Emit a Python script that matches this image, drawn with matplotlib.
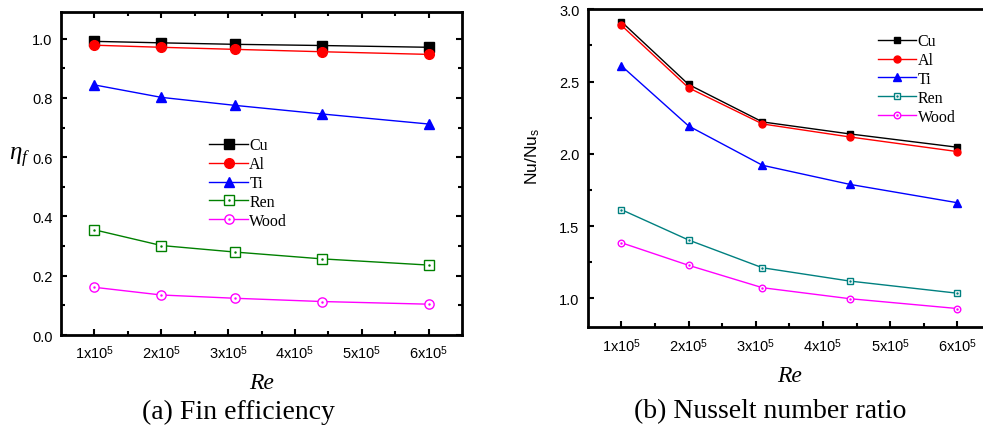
import matplotlib
matplotlib.use("Agg")
import matplotlib.pyplot as plt
from matplotlib.ticker import MultipleLocator, FixedLocator, FixedFormatter

plt.rcParams['font.family'] = ['Liberation Sans', 'DejaVu Sans']
plt.rcParams['mathtext.fontset'] = 'custom'
plt.rcParams['mathtext.rm'] = 'Liberation Sans'
plt.rcParams['mathtext.it'] = 'Liberation Serif:italic'

# Reynolds numbers
re = [1e5, 2e5, 3.1e5, 4.4e5, 6e5]
materials = ['Cu', 'Al', 'Ti', 'Ren', 'Wood']

# (a) fin efficiency
eff_cu = [0.991, 0.986, 0.981, 0.977, 0.971]
eff_al = [0.978, 0.971, 0.964, 0.956, 0.947]
eff_ti = [0.844, 0.802, 0.775, 0.746, 0.712]
eff_ren = [0.355, 0.302, 0.280, 0.257, 0.236]
eff_wood = [0.161, 0.135, 0.124, 0.113, 0.104]

# (b) Nusselt number ratio
nu_cu = [2.914, 2.480, 2.221, 2.138, 2.046]
nu_al = [2.889, 2.457, 2.207, 2.117, 2.016]
nu_ti = [2.609, 2.193, 1.921, 1.789, 1.662]
nu_ren = [1.614, 1.404, 1.212, 1.120, 1.036]
nu_wood = [1.385, 1.229, 1.074, 0.998, 0.930]

xtick_vals = [1e5, 2e5, 3e5, 4e5, 5e5, 6e5]
xtick_labels = ['1x10$^5$', '2x10$^5$', '3x10$^5$', '4x10$^5$', '5x10$^5$', '6x10$^5$']

fig = plt.figure(figsize=(9.83, 4.27), dpi=100)
ax1 = fig.add_axes([0.0621, 0.2131, 0.408, 0.7564])
ax2 = fig.add_axes([0.598, 0.2311, 0.410, 0.7447])


def draw(ax, series, colors, msize, lw):
    handles = []
    for (name, vals), c in zip(series, colors):
        if name == 'Cu':
            h, = ax.plot(re, vals, color=c, marker='s', ms=msize, lw=lw)
        elif name == 'Al':
            h, = ax.plot(re, vals, color=c, marker='o', ms=msize, lw=lw)
        elif name == 'Ti':
            h, = ax.plot(re, vals, color=c, marker='^', ms=msize * 1.1, lw=lw)
        else:
            h, = ax.plot(re, vals, color=c, marker='s' if name == 'Ren' else 'o',
                         ms=msize * 0.95, lw=lw, mfc='white', mec=c, mew=1.0)
            d, = ax.plot(re, vals, color=c, marker='.', ms=1.5, lw=0)
            h = (h, d)
        handles.append(h)
    return handles


def style(ax, ylim, ymaj, ymin):
    ax.set_xlim(0.5e5, 6.5e5)
    ax.set_ylim(*ylim)
    ax.xaxis.set_major_locator(FixedLocator(xtick_vals))
    ax.xaxis.set_major_formatter(FixedFormatter(xtick_labels))
    ax.xaxis.set_minor_locator(FixedLocator([1.5e5, 2.5e5, 3.5e5, 4.5e5, 5.5e5]))
    ax.yaxis.set_major_locator(MultipleLocator(ymaj))
    ax.yaxis.set_minor_locator(MultipleLocator(ymin))
    ax.tick_params(which='both', direction='in', labelsize=10.5, width=1.5, pad=6)
    ax.tick_params(which='major', length=4)
    ax.tick_params(which='minor', length=3)
    for s in ax.spines.values():
        s.set_linewidth(2)
    ax.set_xlabel('Re', fontsize=17, fontstyle='italic', family='Liberation Serif', labelpad=8)


colors_a = ['black', 'red', 'blue', 'green', 'magenta']
h1 = draw(ax1, list(zip(materials, [eff_cu, eff_al, eff_ti, eff_ren, eff_wood])),
          colors_a, 7, 1.0)
style(ax1, (0, 1.09), 0.2, 0.1)
ax1.tick_params(which='both', top=True, right=True)
ax1.set_ylabel(r'$\mathit{\eta_f}$', fontsize=18, rotation=0, va='center', ha='center')
ax1.yaxis.set_label_coords(-0.102, 0.55)
ax1.legend(h1, materials, loc='center left', bbox_to_anchor=(0.35, 0.47), frameon=False,
           prop={'family': 'Liberation Serif', 'size': 11.5}, handlelength=2.4,
           handletextpad=0.1, labelspacing=0.18, borderpad=0)

colors_b = ['black', 'red', 'blue', 'teal', 'magenta']
h2 = draw(ax2, list(zip(materials, [nu_cu, nu_al, nu_ti, nu_ren, nu_wood])),
          colors_b, 5, 1.0)
style(ax2, (0.8, 3.0), 0.5, 0.25)
ax2.set_ylabel('Nu/Nu$_\\mathrm{s}$', fontsize=12.5, va='center')
ax2.yaxis.set_label_coords(-0.136, 0.54)
ax2.legend(h2, materials, loc='upper left', bbox_to_anchor=(0.70, 0.95), frameon=False,
           prop={'family': 'Liberation Serif', 'size': 11.5}, handlelength=2.4,
           handletextpad=0.1, labelspacing=0.18, borderpad=0)

fig.text(0.243, 0.035, '(a) Fin efficiency', ha='center', va='center',
         fontsize=20, family='Liberation Serif')
fig.text(0.783, 0.035, '(b) Nusselt number ratio', ha='center', va='center',
         fontsize=20, family='Liberation Serif')

fig.savefig('out.png', dpi=100)
